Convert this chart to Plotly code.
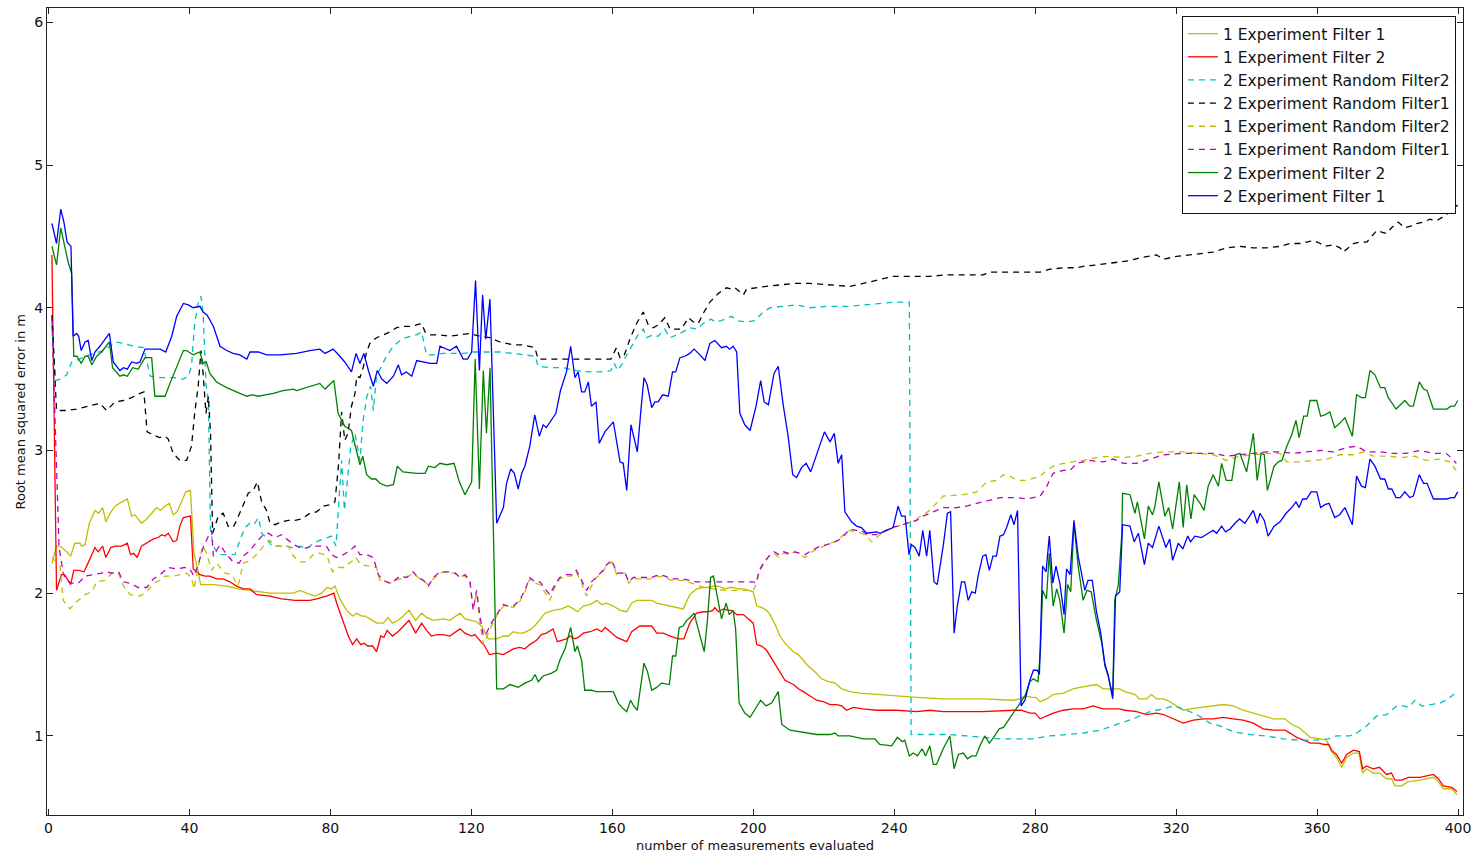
import plotly.graph_objects as go

exp1_filter1 = [
    (1, 2.21), (2.3, 2.33), (3.3, 2.33), (5.2, 2.29), (6.3, 2.26), (7.5, 2.35), (9, 2.35), (9.4, 2.33), (10.4, 2.34),
    (11.6, 2.49), (13.2, 2.58), (14.3, 2.56), (15.4, 2.60), (16.3, 2.50), (17.5, 2.56), (18.9, 2.61), (20.8, 2.64),
    (22.4, 2.66), (23.6, 2.54), (24.5, 2.55), (26.4, 2.49), (27.9, 2.52), (29.3, 2.56), (30.7, 2.60), (31.8, 2.58),
    (33.1, 2.61), (34.3, 2.63), (35.4, 2.55), (36.5, 2.57), (37.8, 2.65), (39, 2.71), (40.3, 2.72), (41.3, 2.28),
    (42.1, 2.20), (43.2, 2.06), (46.8, 2.06), (50.6, 2.05), (53.9, 2.03), (59.1, 2.01), (62.9, 2.00), (69.5, 2.00),
    (71.4, 2.02), (73.3, 2.00), (75.6, 1.98), (77.5, 2.00), (79.1, 2.04), (80.3, 2.03), (81.3, 2.05), (82.7, 1.96),
    (84.6, 1.88), (86.3, 1.84), (87.5, 1.86), (88.9, 1.84), (89.8, 1.84), (91.2, 1.82), (93.1, 1.79), (95, 1.79),
    (96.4, 1.83), (97.6, 1.79), (99.3, 1.81), (100.7, 1.84), (102.3, 1.88), (104.2, 1.81), (105.9, 1.86), (107.3, 1.83),
    (109.2, 1.81), (112, 1.82), (113.9, 1.81), (116.8, 1.86), (118.2, 1.82), (120.1, 1.81), (121.5, 1.80), (122.9, 1.77),
    (124.8, 1.68), (127.2, 1.68), (129.1, 1.70), (130.5, 1.70), (131.9, 1.73), (133.3, 1.72), (134.7, 1.72), (137.1, 1.75),
    (139, 1.80), (140.9, 1.86), (143.2, 1.88), (145.6, 1.89), (147.5, 1.91), (149, 1.89), (150.1, 1.87), (151.8, 1.91),
    (153.7, 1.92), (155.6, 1.95), (157, 1.92), (158.4, 1.93), (160.3, 1.91), (162.2, 1.88), (164.1, 1.87), (165.5, 1.93),
    (167, 1.95), (168.8, 1.95), (171.2, 1.95), (172.6, 1.93), (174.5, 1.92), (176.4, 1.91), (178.3, 1.90), (180.1, 1.89),
    (182, 1.99), (183.9, 2.03), (185.8, 2.04), (187.2, 2.04), (188.7, 2.05), (190.1, 2.05), (192, 2.03), (193.4, 2.04),
    (194.3, 2.04), (195.7, 2.03), (197.2, 2.03), (199, 2.02), (200, 2.01), (201, 1.91), (202.4, 1.90), (203.8, 1.88),
    (204.8, 1.85), (206.2, 1.78), (207.6, 1.70), (209, 1.65), (211.4, 1.59), (212.8, 1.57), (214.2, 1.53), (215.6, 1.49),
    (217.5, 1.45), (219.4, 1.40), (221.3, 1.38), (223.2, 1.37), (225.1, 1.33), (227.4, 1.31), (230.3, 1.30), (235, 1.29),
    (240.7, 1.28), (246.4, 1.27), (253.9, 1.26), (258, 1.26), (265.2, 1.26), (273.8, 1.25), (275.7, 1.26), (277.1, 1.28),
    (279, 1.27), (280.2, 1.27), (281.4, 1.24), (283.3, 1.26), (285.1, 1.29), (288, 1.30), (290.8, 1.33), (292.7, 1.34),
    (295.5, 1.35), (297.4, 1.36), (299.3, 1.33), (302.2, 1.33), (304, 1.33), (305.5, 1.31), (307.4, 1.30), (308.4, 1.29),
    (309.5, 1.26), (311.6, 1.26), (313, 1.29), (314.4, 1.26), (316.4, 1.26), (318.2, 1.24), (320.1, 1.21), (322, 1.18),
    (323.9, 1.19), (327.7, 1.20), (330.5, 1.21), (333.4, 1.22), (336.2, 1.21), (339, 1.18), (341.9, 1.16), (344.7, 1.14),
    (347.6, 1.12), (350.9, 1.12), (352.8, 1.08), (354.7, 1.06), (356.2, 1.03), (358.1, 0.99), (361, 0.98), (362.7, 0.97),
    (364.1, 0.89), (365.5, 0.85), (367, 0.78), (368.4, 0.85), (370.3, 0.88), (371.9, 0.88), (372.9, 0.74), (374, 0.77),
    (375.9, 0.74), (377.7, 0.74), (379.7, 0.70), (381.1, 0.70), (382.1, 0.65), (384, 0.65), (385.9, 0.68), (389.2, 0.69),
    (393, 0.71), (394.4, 0.68), (395.8, 0.63), (398.2, 0.63), (399.7, 0.59),
]

exp1_filter2 = [
    (1, 4.37), (2.3, 2.02), (3.7, 2.13), (4.6, 2.13), (6.3, 2.06), (7.2, 2.16), (8.7, 2.16), (10.1, 2.15), (11.6, 2.23),
    (13.2, 2.32), (14.1, 2.29), (15.4, 2.33), (16.3, 2.25), (17.7, 2.32), (18.9, 2.33), (20.8, 2.33), (22.4, 2.35),
    (23.3, 2.27), (24.2, 2.28), (25.2, 2.25), (26.4, 2.33), (27.9, 2.35), (29.8, 2.38), (31.2, 2.39), (32.1, 2.41),
    (33.1, 2.40), (34, 2.42), (35.4, 2.36), (36.4, 2.37), (37.3, 2.47), (38.3, 2.53), (40.3, 2.54), (41.1, 2.17),
    (42.1, 2.15), (43, 2.13), (44.4, 2.12), (45.8, 2.12), (47.7, 2.10), (49.6, 2.10), (51.5, 2.08), (53.4, 2.05),
    (55.3, 2.03), (57.2, 2.03), (59.1, 1.99), (62.9, 1.98), (66.2, 1.96), (70, 1.95), (74.2, 1.95), (76.1, 1.96),
    (78.9, 1.98), (81, 2.00), (81.8, 1.93), (83.7, 1.80), (85.1, 1.70), (86.3, 1.64), (87.5, 1.68), (88.6, 1.64),
    (89.6, 1.65), (90.6, 1.63), (92, 1.63), (93.1, 1.59), (94.3, 1.70), (95.2, 1.69), (96.1, 1.74), (97.6, 1.70),
    (99.2, 1.73), (100.8, 1.77), (102.3, 1.81), (104.2, 1.72), (105.9, 1.79), (107.3, 1.74), (108.7, 1.70), (110.2, 1.71),
    (112, 1.71), (113.9, 1.70), (116.8, 1.75), (118.2, 1.72), (120.1, 1.70), (121, 1.71), (122.4, 1.67), (123.8, 1.63),
    (125.1, 1.57), (127.2, 1.58), (129.1, 1.57), (130.5, 1.59), (131.9, 1.61), (133.7, 1.62), (135.2, 1.61), (136.6, 1.64),
    (138.5, 1.67), (139.9, 1.71), (141.3, 1.72), (143.2, 1.75), (144.4, 1.66), (145.6, 1.67), (147, 1.68), (148, 1.70),
    (149.4, 1.68), (150.3, 1.69), (151.8, 1.72), (153.7, 1.73), (155.6, 1.75), (157, 1.73), (158, 1.76), (159.4, 1.73),
    (161.3, 1.69), (164.1, 1.66), (165.5, 1.73), (167.8, 1.77), (171.2, 1.77), (172.6, 1.72), (174.5, 1.72), (176.4, 1.70),
    (178.8, 1.68), (180.3, 1.68), (182, 1.79), (183.9, 1.86), (185.8, 1.87), (187.2, 1.87), (188.5, 1.88), (189.1, 1.90),
    (190.1, 1.87), (191.6, 1.89), (193, 1.88), (193.9, 1.88), (195.3, 1.85), (197.2, 1.85), (198.6, 1.82), (200, 1.79),
    (201, 1.64), (202.4, 1.63), (203.8, 1.60), (204.8, 1.56), (206.2, 1.50), (207.6, 1.44), (209, 1.39), (211.4, 1.36),
    (212.8, 1.33), (214.2, 1.31), (216.1, 1.28), (218, 1.25), (219.9, 1.24), (221.8, 1.22), (223.7, 1.22), (225.1, 1.21),
    (226.5, 1.18), (228.4, 1.20), (231.2, 1.19), (235, 1.18), (240.7, 1.18), (246.4, 1.17), (250.1, 1.18), (253.9, 1.17),
    (258, 1.17), (265, 1.17), (273.8, 1.18), (276, 1.18), (278.5, 1.16), (280, 1.16), (281.4, 1.12), (283.3, 1.14),
    (285.1, 1.16), (288, 1.18), (290.8, 1.19), (293.6, 1.19), (296.5, 1.21), (299.3, 1.19), (302.2, 1.19), (304, 1.19),
    (305.5, 1.18), (308.8, 1.17), (311.6, 1.15), (314.4, 1.16), (316.4, 1.15), (319.2, 1.12), (322, 1.09), (324.9, 1.11),
    (327.7, 1.12), (330.5, 1.12), (333.4, 1.13), (336.2, 1.12), (339, 1.11), (341.9, 1.09), (344.7, 1.05), (347.6, 1.04),
    (350.9, 1.04), (352.3, 1.02), (354.2, 0.99), (356.2, 0.97), (358.1, 0.95), (360.5, 0.95), (361.9, 0.94), (363.3, 0.94),
    (364.1, 0.90), (365.5, 0.87), (367, 0.81), (368.4, 0.87), (370.3, 0.90), (372, 0.89), (372.9, 0.77), (374, 0.79),
    (375.9, 0.77), (377.7, 0.78), (379.7, 0.73), (381.1, 0.74), (382.1, 0.69), (384, 0.69), (385.9, 0.71), (389.2, 0.71),
    (393, 0.73), (394.4, 0.70), (395.8, 0.65), (398.2, 0.64), (399.7, 0.61),
]

exp2_random_filter2 = [
    (1, 3.88), (2, 3.49), (3.3, 3.50), (5.2, 3.53), (6.6, 3.62), (8, 3.63), (10.4, 3.66), (12.8, 3.68), (15.6, 3.70),
    (17.9, 3.74), (18.9, 3.76), (21.3, 3.75), (24.1, 3.73), (27, 3.72), (27.9, 3.63), (28.9, 3.52), (31.7, 3.51),
    (35.4, 3.51), (38.3, 3.50), (39.7, 3.52), (40.6, 3.59), (41.5, 3.89), (42.5, 4.03), (43.3, 4.08), (43.9, 3.96),
    (44.7, 3.47), (45.4, 3.35), (46, 2.44), (46.8, 2.33), (48.2, 2.27), (50.1, 2.27), (51.5, 2.27), (52.9, 2.27),
    (54.3, 2.37), (55.8, 2.46), (57.2, 2.49), (58.3, 2.48), (59.6, 2.53), (60.5, 2.42), (61.9, 2.39), (63.4, 2.33),
    (65.2, 2.33), (67.1, 2.33), (69.1, 2.32), (71.4, 2.33), (73.3, 2.31), (75.1, 2.35), (77, 2.37), (78.9, 2.39),
    (80.3, 2.40), (81.6, 2.33), (82.2, 2.56), (83.2, 2.93), (84, 2.58), (84.8, 2.79), (85.8, 3.03), (87, 3.12),
    (88.4, 2.93), (89.3, 3.21), (90.4, 3.38), (91.4, 3.45), (92.2, 3.28), (93.1, 3.52), (94.5, 3.59), (95.9, 3.66),
    (97.9, 3.73), (100.2, 3.78), (102.6, 3.80), (104.5, 3.81), (105.9, 3.83), (107.3, 3.67), (109.2, 3.67), (112, 3.68),
    (114.9, 3.68), (117.7, 3.68), (120.6, 3.69), (124.3, 3.69), (128.1, 3.69), (131.9, 3.68), (135.7, 3.67), (138.1, 3.66),
    (139, 3.59), (142.3, 3.58), (146, 3.58), (149.8, 3.56), (153.6, 3.55), (157.3, 3.55), (159.6, 3.56), (160.6, 3.61),
    (161.5, 3.56), (162.9, 3.61), (163.9, 3.66), (165.8, 3.75), (167.3, 3.81), (168.8, 3.85), (169.7, 3.79), (171.6, 3.81),
    (173, 3.80), (174.9, 3.85), (176.4, 3.79), (179.2, 3.82), (182, 3.86), (184, 3.85), (185.8, 3.89), (188.1, 3.92),
    (189.1, 3.90), (191, 3.91), (193.9, 3.94), (195.3, 3.91), (198.1, 3.90), (200.5, 3.91), (202.8, 3.97), (204.8, 4.00),
    (208.5, 4.01), (212.3, 4.02), (216.1, 4.00), (220.8, 4.01), (227.4, 4.01), (232.2, 4.02), (236.9, 4.03), (240.7, 4.04),
    (244.3, 4.04), (244.8, 1.01), (248.9, 1.01), (255.8, 1.01), (260.5, 1.00), (265.2, 0.99), (270, 0.98), (274.7, 0.98),
    (279.4, 0.98), (284.2, 1.00), (288.9, 1.01), (293.6, 1.02), (298.4, 1.04), (303.1, 1.08), (307.8, 1.12), (312.5, 1.17),
    (316.4, 1.19), (319.2, 1.21), (322, 1.19), (325.8, 1.15), (329.6, 1.09), (332.4, 1.07), (336.2, 1.03), (340.9, 1.01),
    (345.6, 1.00), (350.4, 0.98), (355.1, 0.97), (359.8, 0.97), (363.1, 0.98), (365.5, 1.00), (369.3, 1.00), (371.2, 1.02),
    (374, 1.07), (376.9, 1.14), (379.7, 1.15), (382.6, 1.21), (384.5, 1.21), (385.9, 1.20), (387.8, 1.25), (389.7, 1.21),
    (392, 1.22), (394.9, 1.23), (397.2, 1.26), (399.7, 1.31),
]

exp2_random_filter1 = [
    (1, 3.95), (2.3, 3.28), (4.7, 3.28), (8, 3.29), (11.3, 3.31), (14.6, 3.33), (16.5, 3.28), (18.9, 3.34), (21.3, 3.35),
    (23.6, 3.37), (26, 3.40), (27.1, 3.41), (28, 3.13), (29.8, 3.11), (31.5, 3.09), (33.1, 3.10), (34, 3.08), (35.4, 2.98),
    (37.3, 2.93), (39.2, 2.93), (40.6, 3.03), (41.5, 3.26), (42.5, 3.45), (43.3, 3.70), (43.9, 3.54), (44.7, 3.26),
    (45.4, 3.38), (46, 3.12), (46.6, 2.42), (48.2, 2.54), (49.6, 2.56), (51, 2.47), (52.4, 2.46), (53.4, 2.51),
    (55.3, 2.62), (56.7, 2.70), (58.1, 2.72), (59.3, 2.78), (60.5, 2.64), (61.9, 2.58), (62.9, 2.49), (64.3, 2.48),
    (66.2, 2.50), (68.1, 2.51), (70, 2.51), (71.9, 2.52), (74.2, 2.56), (76.1, 2.57), (78, 2.61), (79.9, 2.62),
    (81.3, 2.64), (81.9, 2.77), (82.3, 2.89), (83.2, 3.27), (84.1, 3.07), (85, 3.12), (86, 3.31), (87, 3.40), (87.5, 3.52),
    (88.4, 3.51), (89.3, 3.58), (90.3, 3.69), (91.2, 3.75), (93.1, 3.79), (95, 3.81), (96.9, 3.83), (98.8, 3.86),
    (100.6, 3.87), (103, 3.87), (104.5, 3.88), (105.9, 3.89), (106.9, 3.83), (108.3, 3.81), (111.1, 3.81), (113.9, 3.80),
    (116.8, 3.81), (119.6, 3.82), (122.4, 3.80), (125.3, 3.79), (128.1, 3.76), (131.9, 3.74), (134.7, 3.74), (138, 3.72),
    (139, 3.64), (142.3, 3.64), (146, 3.64), (149.8, 3.64), (155.4, 3.64), (159.6, 3.64), (161.2, 3.72), (162.2, 3.65),
    (163.3, 3.66), (165, 3.78), (166.9, 3.89), (168.8, 3.97), (170.2, 3.88), (171.6, 3.86), (173.1, 3.88), (174.9, 3.93),
    (176.4, 3.85), (178.3, 3.85), (179.6, 3.85), (181.6, 3.93), (183, 3.90), (184.4, 3.89), (185.8, 3.96), (187.7, 4.04),
    (190.1, 4.10), (192.4, 4.14), (193.9, 4.13), (194.8, 4.14), (197.2, 4.09), (198.1, 4.13), (200.5, 4.14), (203.8, 4.15),
    (207.6, 4.16), (211.8, 4.17), (216.1, 4.17), (222.7, 4.16), (227.4, 4.15), (231.2, 4.17), (236.9, 4.20), (239.7, 4.22),
    (244.4, 4.22), (250.1, 4.22), (254.8, 4.23), (258.7, 4.23), (261.6, 4.23), (265.2, 4.23), (267.2, 4.25), (272.8, 4.25),
    (277.6, 4.25), (281.4, 4.25), (284.2, 4.27), (288, 4.28), (291.8, 4.28), (293.6, 4.29), (297.4, 4.30), (301.2, 4.31),
    (304.9, 4.32), (306.8, 4.33), (309.7, 4.35), (312.5, 4.36), (314.4, 4.37), (316.4, 4.34), (320.1, 4.36), (323.9, 4.37),
    (326.8, 4.38), (330.5, 4.39), (334.3, 4.42), (338.1, 4.43), (341.9, 4.42), (345.7, 4.42), (349.5, 4.43), (352.3, 4.45),
    (355.2, 4.45), (359, 4.47), (360.9, 4.45), (362.2, 4.43), (364.6, 4.44), (366.5, 4.42), (367.4, 4.39), (368.8, 4.42),
    (370.3, 4.45), (372.2, 4.46), (374.1, 4.46), (375.5, 4.50), (376.9, 4.54), (378.3, 4.53), (379.7, 4.52), (381.1, 4.56),
    (383, 4.60), (384.9, 4.56), (386.3, 4.57), (388.2, 4.59), (390.1, 4.60), (392, 4.62), (393.9, 4.61), (396.6, 4.65),
    (398.5, 4.69), (399.9, 4.72),
]

exp1_random_filter2 = [
    (1, 2.25), (3.3, 2.19), (4.2, 1.95), (6.1, 1.89), (8, 1.94), (10.4, 1.99), (12.3, 2.01), (13.7, 2.08), (16.1, 2.09),
    (18, 2.14), (19.9, 2.14), (21.3, 2.05), (23.2, 1.99), (26, 1.98), (27.9, 2.01), (29.8, 2.07), (31.7, 2.09), (33.1, 2.12),
    (35.4, 2.12), (37.3, 2.13), (39.2, 2.14), (40.6, 2.11), (41.3, 2.03), (42.5, 2.18), (43.7, 2.33), (44.9, 2.28),
    (46.3, 2.16), (47.7, 2.21), (50.1, 2.14), (52, 2.13), (53.8, 2.05), (55.3, 2.21), (57.2, 2.23), (59.1, 2.27),
    (61, 2.33), (62.9, 2.37), (64.3, 2.33), (66.2, 2.33), (68.1, 2.33), (69.5, 2.26), (71.4, 2.22), (73.3, 2.22),
    (75.1, 2.27), (77, 2.28), (79.1, 2.26), (80.6, 2.15), (82, 2.18), (83.9, 2.18), (85.8, 2.22), (87.3, 2.25), (88.6, 2.20),
    (91.2, 2.19), (93.1, 2.18), (94, 2.09), (95, 2.09), (96.9, 2.07), (98.3, 2.09), (99.7, 2.10), (101.6, 2.11),
    (103.5, 2.14), (104.9, 2.11), (106.4, 2.09), (107.8, 2.06), (109.2, 2.10), (110.6, 2.13), (112, 2.15), (113.9, 2.14),
    (115.4, 2.14), (116.8, 2.12), (118.2, 2.12), (119.6, 2.08), (120.5, 1.90), (121.5, 2.00), (122.4, 1.80), (123.5, 1.64),
    (124.5, 1.70), (125.7, 1.77), (127.2, 1.84), (129.1, 1.91), (130.5, 1.91), (131.9, 1.90), (133.7, 1.94), (135.2, 2.01),
    (136.6, 2.10), (138, 2.07), (139.5, 2.06), (140.9, 2.00), (142.3, 1.95), (143.7, 2.04), (145.1, 2.10), (147, 2.12),
    (148.4, 2.12), (149.8, 2.15), (151.3, 2.07), (152.7, 1.98), (154.1, 2.05), (155.6, 2.11), (157, 2.14), (158.4, 2.19),
    (159.9, 2.22), (161.3, 2.13), (162.7, 2.14), (163.6, 2.14), (164.6, 2.07), (166, 2.10), (168.8, 2.10), (171.2, 2.10),
    (173.1, 2.12), (175, 2.11), (176.8, 2.09), (180.1, 2.09), (183.9, 2.06), (186, 2.04), (188.7, 2.03), (192, 2.02),
    (196, 2.02), (200, 2.02), (200.8, 2.06), (201.7, 2.15), (203.1, 2.21), (204.5, 2.26), (205.9, 2.28), (207.3, 2.25),
    (208.6, 2.28), (209.9, 2.27), (211.8, 2.29), (213.3, 2.27), (214.7, 2.25), (216.6, 2.29), (219, 2.32), (220.9, 2.34),
    (224.1, 2.37), (226, 2.42), (227.4, 2.44), (229.3, 2.43), (230.7, 2.42), (232.2, 2.40), (233.6, 2.36), (235, 2.39),
    (236.9, 2.43), (239.3, 2.46), (241.1, 2.47), (243.5, 2.49), (246.4, 2.52), (248.2, 2.55), (250.1, 2.58), (253.9, 2.68),
    (257.7, 2.69), (259.6, 2.69), (263.4, 2.71), (266.3, 2.78), (269.1, 2.79), (271, 2.83), (272.9, 2.82), (274.8, 2.79),
    (277.6, 2.79), (281.4, 2.82), (283.3, 2.86), (285.1, 2.89), (288, 2.91), (290.8, 2.92), (293.6, 2.93), (297.4, 2.95),
    (301.2, 2.96), (305, 2.95), (308.8, 2.96), (312.5, 2.98), (316.4, 2.99), (322, 2.99), (325.8, 2.98), (330.5, 2.97),
    (334.3, 2.93), (338.1, 2.96), (341.9, 2.97), (345.7, 2.98), (349.5, 2.98), (351.4, 2.92), (355.2, 2.92), (359, 2.93),
    (362.8, 2.94), (366.5, 2.97), (370.3, 2.97), (373.2, 2.99), (376, 2.96), (380, 2.96), (383.9, 2.95), (387.6, 2.96),
    (391, 2.93), (394.9, 2.94), (397.6, 2.92), (398.5, 2.89), (399.5, 2.86),
]

exp1_random_filter1 = [
    (1, 3.92), (3, 2.33), (4.2, 2.14), (5.2, 2.09), (6.6, 2.07), (8.5, 2.07), (10.4, 2.12), (13.2, 2.13), (15.1, 2.14),
    (16.5, 2.15), (18, 2.14), (19.9, 2.15), (21.3, 2.08), (23.2, 2.07), (25.5, 2.04), (27.9, 2.04), (29.8, 2.10),
    (31.7, 2.13), (34, 2.18), (36.4, 2.17), (38.7, 2.18), (40.1, 2.17), (41.3, 2.12), (42.5, 2.20), (43.9, 2.32),
    (45.4, 2.40), (46.3, 2.44), (46.8, 2.26), (48.7, 2.34), (50.6, 2.27), (52.4, 2.22), (54.1, 2.21), (55.3, 2.26),
    (57.2, 2.30), (59.1, 2.36), (61, 2.41), (62.4, 2.42), (64.3, 2.39), (66.2, 2.41), (68.1, 2.37), (70.4, 2.33),
    (72.3, 2.31), (74.7, 2.33), (76.6, 2.33), (78.9, 2.33), (80.3, 2.27), (81.8, 2.25), (83.7, 2.27), (85.1, 2.29),
    (87, 2.33), (88.4, 2.27), (90.3, 2.27), (92.2, 2.25), (93.6, 2.13), (95, 2.09), (96.9, 2.07), (98.3, 2.09),
    (99.7, 2.12), (101.6, 2.11), (103.5, 2.15), (104.9, 2.11), (106.4, 2.09), (107.8, 2.05), (109.2, 2.11), (110.6, 2.14),
    (112, 2.15), (113.9, 2.15), (115.4, 2.14), (116.8, 2.11), (118.2, 2.13), (119.6, 2.09), (120.5, 1.88), (121.5, 2.02),
    (122.4, 1.85), (123.4, 1.70), (124.3, 1.72), (125.7, 1.79), (127.2, 1.85), (129.1, 1.92), (130.5, 1.91), (131.9, 1.91),
    (133.7, 1.95), (135.2, 2.02), (136.6, 2.11), (138, 2.08), (139.5, 2.08), (140.9, 2.03), (142.3, 1.99), (143.7, 2.06),
    (145.1, 2.11), (147, 2.13), (148.4, 2.13), (149.8, 2.16), (151.3, 2.09), (152.7, 2.02), (154.1, 2.08), (155.6, 2.12),
    (157, 2.15), (158.4, 2.20), (159.9, 2.23), (161.3, 2.14), (162.7, 2.14), (163.6, 2.15), (164.6, 2.08), (166, 2.11),
    (168.8, 2.11), (171.2, 2.11), (173.1, 2.13), (175, 2.12), (176.8, 2.10), (180.1, 2.10), (183.9, 2.08), (186, 2.08),
    (188.7, 2.08), (192, 2.08), (196, 2.08), (200, 2.08), (200.8, 2.07), (201.7, 2.16), (203.1, 2.22), (204.5, 2.26),
    (205.9, 2.29), (207.3, 2.27), (208.6, 2.29), (209.9, 2.28), (211.8, 2.29), (213.3, 2.28), (214.7, 2.27), (216.6, 2.30),
    (219, 2.33), (220.9, 2.34), (224.1, 2.37), (226, 2.41), (227.4, 2.45), (229.3, 2.44), (230.7, 2.44), (232.2, 2.41),
    (235, 2.41), (236.9, 2.43), (239.3, 2.46), (241.1, 2.47), (243.5, 2.49), (246.4, 2.51), (248.2, 2.54), (250.1, 2.56),
    (253.9, 2.60), (257.7, 2.60), (260.5, 2.61), (265.2, 2.64), (270, 2.67), (274.7, 2.67), (277.6, 2.66), (281.4, 2.68),
    (283.3, 2.75), (285.1, 2.84), (288, 2.86), (289.9, 2.86), (291.8, 2.91), (295.5, 2.93), (299.3, 2.92), (302.2, 2.94),
    (305, 2.91), (308.8, 2.91), (312.5, 2.94), (316.4, 2.97), (322, 2.98), (327.7, 2.98), (330.5, 2.98), (334.3, 2.96),
    (338.1, 2.97), (341.9, 2.98), (345.7, 2.99), (349.5, 2.99), (353.3, 2.98), (357, 2.99), (361, 3.00), (364.6, 2.99),
    (368.4, 3.02), (371.2, 3.03), (374.1, 2.99), (377.8, 2.99), (381.5, 2.98), (385.3, 2.98), (389.1, 3.00), (392.9, 2.98),
    (396.6, 2.98), (398, 2.95), (399.5, 2.91),
]

exp2_filter2 = [
    (1, 4.43), (2.3, 4.30), (3.5, 4.56), (4.4, 4.46), (5.6, 4.32), (6.6, 4.24), (7.2, 3.66), (8.1, 3.66), (9.3, 3.61),
    (10.4, 3.66), (11.3, 3.66), (12.3, 3.60), (13.7, 3.66), (15.1, 3.69), (16.5, 3.73), (17.3, 3.76), (18.2, 3.58),
    (20.3, 3.52), (21.3, 3.53), (22.4, 3.52), (23.9, 3.58), (25.5, 3.57), (27.4, 3.65), (29.3, 3.65), (30.2, 3.38),
    (33.1, 3.38), (34.5, 3.47), (36.4, 3.58), (38.3, 3.70), (39.2, 3.70), (41.1, 3.67), (43, 3.69), (43.9, 3.61),
    (44.8, 3.62), (45.8, 3.54), (47.7, 3.48), (50.6, 3.44), (54.3, 3.40), (56.3, 3.38), (57.7, 3.39), (59.6, 3.38),
    (61.5, 3.39), (63.8, 3.40), (66.6, 3.42), (69.5, 3.43), (70.4, 3.42), (73.3, 3.44), (77, 3.47), (78.5, 3.43),
    (81, 3.49), (82.2, 3.26), (84.1, 3.17), (86, 3.14), (87.3, 3.01), (88.4, 2.90), (89.2, 2.96), (90.3, 2.83),
    (91.7, 2.80), (92.9, 2.80), (94.1, 2.77), (96, 2.75), (97.9, 2.76), (99, 2.89), (100.6, 2.85), (104.5, 2.84),
    (106.9, 2.84), (107.8, 2.89), (109.7, 2.88), (111.1, 2.91), (113, 2.90), (115.1, 2.91), (116.6, 2.78), (118.2, 2.69),
    (120.1, 2.78), (121.1, 3.64), (122.3, 2.73), (123.4, 3.56), (124.3, 3.12), (125.3, 3.58), (127.2, 1.33), (129.1, 1.33),
    (131, 1.36), (133.3, 1.34), (135.2, 1.37), (137.1, 1.39), (138.1, 1.43), (139, 1.38), (140.4, 1.42), (142.8, 1.44),
    (144.2, 1.46), (145.1, 1.53), (146.6, 1.61), (148.2, 1.76), (149.4, 1.59), (150.1, 1.63), (151.3, 1.53), (152.2, 1.32),
    (154.1, 1.32), (155.4, 1.31), (157.3, 1.31), (160.3, 1.31), (161.7, 1.23), (163.1, 1.19), (164.1, 1.17), (165.2, 1.25),
    (166.1, 1.21), (167.1, 1.18), (169, 1.51), (170, 1.45), (171.2, 1.32), (172.6, 1.34), (174, 1.37), (176.2, 1.36),
    (177.1, 1.56), (178, 1.56), (179, 1.76), (180.1, 1.77), (181.1, 1.81), (182.1, 1.83), (183.2, 1.86), (184.7, 1.73),
    (186.1, 1.59), (187, 1.81), (187.9, 2.11), (188.7, 2.12), (189.6, 2.01), (191, 1.82), (192.3, 1.93), (193.2, 1.85),
    (194.3, 1.88), (195, 1.75), (196, 1.23), (197.6, 1.16), (199.1, 1.13), (200.5, 1.19), (202.1, 1.25), (203.6, 1.21),
    (205.2, 1.23), (207.1, 1.31), (208.1, 1.08), (210.4, 1.04), (213.3, 1.03), (218, 1.01), (221.8, 1.01), (223.2, 1.02),
    (224.1, 1.00), (227.4, 1.00), (231.2, 0.98), (234.5, 0.98), (235.9, 0.94), (239.3, 0.93), (240.9, 0.99), (242.3, 0.96),
    (243, 0.97), (244.3, 0.86), (245.4, 0.88), (246.6, 0.86), (247.9, 0.91), (248.9, 0.86), (250.1, 0.93), (251.1, 0.80),
    (252, 0.80), (253.9, 0.91), (255.8, 1.00), (257, 0.77), (258.2, 0.87), (259.6, 0.88), (260.8, 0.84), (262, 0.86),
    (263.2, 0.86), (264.3, 0.93), (265.7, 1.00), (267, 0.95), (268.2, 0.99), (269.8, 1.05), (271, 1.06), (272.4, 1.11),
    (273.3, 1.15), (274.3, 1.18), (275.7, 1.23), (277.1, 1.28), (278.5, 1.38), (279.5, 1.40), (280.8, 1.38), (281.5, 1.60),
    (282.1, 2.02), (283.2, 1.96), (284, 2.28), (285.1, 1.91), (286.1, 2.03), (287, 1.95), (288.2, 1.72), (289.2, 2.06),
    (290.1, 2.01), (291, 2.49), (292.2, 2.19), (293.6, 1.95), (294.7, 2.02), (295.9, 2.01), (297.4, 1.81), (298.9, 1.65),
    (299.8, 1.49), (300.7, 1.42), (302, 1.28), (302.6, 1.95), (303.6, 2.06), (304.6, 2.42), (304.8, 2.70), (306.9, 2.69),
    (308.3, 2.56), (309, 2.64), (311, 2.38), (312.1, 2.61), (313.3, 2.55), (313.9, 2.60), (315.1, 2.78), (316.8, 2.54),
    (317.9, 2.60), (319, 2.45), (320.9, 2.78), (322, 2.46), (323, 2.76), (324.2, 2.52), (325.1, 2.69), (326.8, 2.63),
    (327.9, 2.58), (329.1, 2.75), (330.5, 2.83), (332, 2.75), (332.9, 2.91), (334.2, 2.79), (335.8, 2.79), (336.9, 2.97),
    (338.1, 2.98), (340, 2.85), (341.9, 3.12), (343, 2.79), (344.1, 2.98), (345, 2.97), (345.9, 2.72), (347.8, 2.89),
    (349, 2.92), (350, 2.93), (351.4, 3.03), (352.8, 3.11), (354, 3.21), (354.9, 3.09), (356.2, 3.24), (357.2, 3.24),
    (358, 3.35), (359.9, 3.35), (361, 3.24), (362.2, 3.25), (363.6, 3.27), (365, 3.16), (366.4, 3.19), (367.9, 3.23),
    (370, 3.10), (371.2, 3.39), (372.6, 3.37), (373.7, 3.37), (375, 3.56), (376.4, 3.53), (378, 3.44), (379.2, 3.44),
    (380.2, 3.37), (382.4, 3.29), (384.9, 3.35), (386.3, 3.31), (387.3, 3.31), (389, 3.48), (390.2, 3.43), (391.2, 3.42),
    (393, 3.29), (396.8, 3.29), (398, 3.31), (399, 3.31), (399.9, 3.35),
]

exp2_filter1 = [
    (1, 4.59), (2.3, 4.45), (3.5, 4.69), (4.4, 4.60), (5.3, 4.46), (6.4, 4.43), (7.0, 3.80), (8.0, 3.82), (8.6, 3.80),
    (9.3, 3.70), (10.4, 3.76), (11.3, 3.77), (12.3, 3.63), (13.2, 3.69), (14.6, 3.73), (16.0, 3.78), (17.3, 3.82),
    (18.4, 3.62), (20.3, 3.56), (21.3, 3.58), (22.4, 3.57), (23.6, 3.62), (25.0, 3.61), (26.0, 3.62), (27.4, 3.71),
    (29.8, 3.71), (31.7, 3.71), (33.3, 3.69), (35.0, 3.80), (36.4, 3.94), (38.3, 4.03), (39.7, 4.02), (41.1, 4.00),
    (43.0, 4.01), (43.9, 3.97), (45.0, 3.95), (46.8, 3.87), (48.7, 3.73), (50.6, 3.70), (52.4, 3.68), (54.3, 3.67),
    (56.3, 3.64), (57.2, 3.69), (59.6, 3.69), (61.9, 3.67), (65.7, 3.67), (70.4, 3.68), (74.2, 3.70), (77, 3.71),
    (78.5, 3.68), (80.8, 3.71), (82.7, 3.66), (84.1, 3.62), (86, 3.55), (87.3, 3.68), (88.4, 3.61), (89.5, 3.68),
    (90.8, 3.56), (92.2, 3.45), (93.3, 3.56), (94.6, 3.50), (96, 3.47), (97.9, 3.52), (99.3, 3.60), (100.2, 3.53),
    (101.6, 3.55), (103.1, 3.52), (104.5, 3.63), (108.3, 3.61), (110.2, 3.61), (111.1, 3.73), (113.9, 3.70), (115.8, 3.73),
    (117.7, 3.64), (118.9, 3.64), (120.1, 3.69), (121.2, 4.19), (122.3, 3.56), (123.2, 4.09), (124.1, 3.78), (125.3, 4.06),
    (127.2, 2.49), (129.1, 2.60), (130, 2.77), (131.2, 2.87), (132.2, 2.84), (133.3, 2.73), (134.3, 2.84), (135.2, 2.89),
    (136.6, 3.03), (138, 3.25), (139.3, 3.10), (140.4, 3.18), (141.3, 3.16), (144, 3.26), (145.3, 3.42), (147, 3.55),
    (148.2, 3.73), (149.4, 3.51), (150.3, 3.55), (151.3, 3.41), (152.2, 3.41), (153.2, 3.48), (154.1, 3.31), (155.4, 3.34),
    (156.3, 3.05), (157.9, 3.13), (160.3, 3.20), (162.2, 2.92), (163.1, 2.91), (164.1, 2.72), (165.3, 3.18), (167.1, 2.99),
    (168.3, 3.33), (169, 3.51), (169.9, 3.46), (171.2, 3.30), (172.1, 3.34), (173, 3.34), (174.3, 3.39), (175.9, 3.38),
    (177.1, 3.55), (178, 3.55), (179.2, 3.65), (180.6, 3.66), (182, 3.68), (183.2, 3.71), (184.9, 3.67), (186.3, 3.63),
    (187.7, 3.75), (189.1, 3.77), (191, 3.72), (192.4, 3.73), (193.3, 3.71), (194.3, 3.73), (195.3, 3.69), (196.2, 3.26),
    (197.6, 3.18), (199.1, 3.14), (200.8, 3.31), (202.1, 3.49), (203.1, 3.34), (204.3, 3.32), (205.9, 3.54), (207.1, 3.59),
    (208.5, 3.32), (209.9, 3.10), (211.2, 2.83), (212.3, 2.81), (213.7, 2.88), (215, 2.91), (216.3, 2.85), (217.8, 2.96),
    (218.9, 3.05), (220.2, 3.13), (221.8, 3.06), (223, 3.12), (224.1, 2.91), (225.1, 2.97), (226, 2.57), (227.9, 2.50),
    (229.3, 2.47), (230.7, 2.46), (232.2, 2.42), (235, 2.43), (236, 2.42), (237.9, 2.44), (239.7, 2.46), (241.1, 2.61),
    (242.1, 2.54), (243.1, 2.54), (244.2, 2.27), (244.9, 2.34), (245.9, 2.32), (247.1, 2.26), (248.1, 2.44), (249.2, 2.26),
    (250.1, 2.44), (251.3, 2.08), (252.2, 2.06), (253.9, 2.33), (255.1, 2.56), (256, 2.57), (257, 1.72), (257.9, 1.91),
    (259.1, 2.08), (260, 2.08), (261, 1.95), (262, 2.01), (263, 2.00), (263.8, 2.12), (265.1, 2.26), (266, 2.27),
    (267, 2.16), (268, 2.26), (269, 2.26), (270, 2.40), (271, 2.41), (271.9, 2.46), (273.1, 2.55), (274, 2.48), (275, 2.58),
    (276, 1.21), (277.1, 1.25), (278.5, 1.39), (279.5, 1.46), (280.6, 1.46), (281.2, 1.43), (282.1, 2.19), (283.1, 2.15),
    (284, 2.40), (285, 2.07), (285.9, 2.19), (287, 2.07), (288.2, 1.85), (288.9, 2.17), (289.9, 2.13), (291, 2.51),
    (292.2, 2.26), (293.2, 2.12), (294.1, 2.02), (295, 2.09), (296.2, 2.09), (297.4, 1.87), (298.6, 1.72), (299.8, 1.50),
    (300.7, 1.43), (302, 1.26), (302.8, 1.98), (304, 2.01), (304.8, 2.48), (306.9, 2.47), (308.1, 2.36), (309.3, 2.42),
    (311, 2.20), (312.1, 2.35), (313.3, 2.32), (315.1, 2.47), (317.1, 2.32), (318.2, 2.38), (319, 2.23), (320.6, 2.35),
    (321.9, 2.31), (323.3, 2.40), (324.1, 2.36), (325.3, 2.40), (327.2, 2.39), (329.1, 2.42), (330.5, 2.44), (331.5, 2.42),
    (332.9, 2.47), (334, 2.43), (335.3, 2.45), (336.7, 2.49), (338, 2.52), (339.5, 2.49), (341.9, 2.58), (343, 2.49),
    (343.8, 2.56), (345, 2.51), (346.1, 2.40), (347.8, 2.47), (349.5, 2.50), (351.2, 2.56), (352.8, 2.60), (354, 2.64),
    (354.9, 2.60), (355.9, 2.66), (357, 2.66), (358.3, 2.71), (359.9, 2.71), (361, 2.60), (362.2, 2.62), (363.4, 2.63),
    (365, 2.53), (366.4, 2.55), (367.9, 2.60), (370, 2.48), (371.2, 2.82), (372.6, 2.75), (373.7, 2.74), (375, 2.94),
    (376.4, 2.89), (378, 2.80), (379.2, 2.80), (380.2, 2.73), (381.2, 2.73), (382.4, 2.67), (383.6, 2.67), (384.9, 2.71),
    (386.3, 2.67), (387.3, 2.68), (389, 2.83), (390.2, 2.77), (391.2, 2.77), (393, 2.66), (394.9, 2.66), (396.8, 2.66),
    (398, 2.67), (399, 2.67), (399.9, 2.71),
]

series_names = [
    "1 Experiment Filter 1", "1 Experiment Filter 2", "2 Experiment Random Filter2", "2 Experiment Random Filter1",
    "1 Experiment Random Filter2", "1 Experiment Random Filter1", "2 Experiment Filter 2", "2 Experiment Filter 1",
]
series_data = [
    exp1_filter1, exp1_filter2, exp2_random_filter2, exp2_random_filter1,
    exp1_random_filter2, exp1_random_filter1, exp2_filter2, exp2_filter1,
]
series_colors = ["#bfbf00", "#ff0000", "#00bfbf", "#000000", "#bfbf00", "#bf00bf", "#008000", "#0000ff"]
series_dash = ["solid", "solid", "6px,5px", "6px,5px", "6px,5px", "6px,5px", "solid", "solid"]

x_ticks = list(range(0, 401, 40))
y_ticks = [1, 2, 3, 4, 5, 6]

FONT = "DejaVu Sans, Liberation Sans, sans-serif"

fig = go.Figure()
for name, data, color, dash in zip(series_names, series_data, series_colors, series_dash):
    xs = [p[0] for p in data]
    ys = [p[1] for p in data]
    fig.add_trace(go.Scatter(
        x=xs, y=ys, mode="lines", name=name,
        line=dict(color=color, width=1.3, dash=dash),
    ))

axis_common = dict(
    showgrid=False, zeroline=False, showline=True, linecolor="#222222", linewidth=1,
    mirror="ticks", ticks="inside", ticklen=6, tickwidth=1, tickcolor="#222222",
    tickfont=dict(family=FONT, size=14, color="#111111"),
)

fig.update_layout(
    width=1472, height=854,
    paper_bgcolor="white", plot_bgcolor="white",
    margin=dict(l=47, r=9, t=8, b=39),
    showlegend=True,
    legend=dict(
        x=0.995, y=0.99, xanchor="right", yanchor="top",
        bgcolor="white", bordercolor="#111111", borderwidth=1,
        font=dict(family=FONT, size=15.5, color="#111111"),
        tracegroupgap=0, itemwidth=30,
    ),
    xaxis=dict(range=[-0.4, 401.4], tickvals=x_ticks, automargin=False, **axis_common),
    yaxis=dict(range=[0.446, 6.10], tickvals=y_ticks, automargin=False, **axis_common),
    annotations=[
        dict(text="number of measurements evaluated", xref="paper", yref="paper", x=0.5, y=0,
             xanchor="center", yanchor="middle", yshift=-30, showarrow=False,
             font=dict(family=FONT, size=13, color="#111111")),
        dict(text="Root mean squared error in m", xref="paper", yref="paper", x=0, y=0.5,
             xanchor="center", yanchor="middle", xshift=-27, textangle=-90, showarrow=False,
             font=dict(family=FONT, size=13, color="#111111")),
    ],
)

fig.write_html(
    "out.html",
    config={"displayModeBar": False},
    post_script="document.body.style.margin='0';document.body.style.overflow='hidden';",
)
